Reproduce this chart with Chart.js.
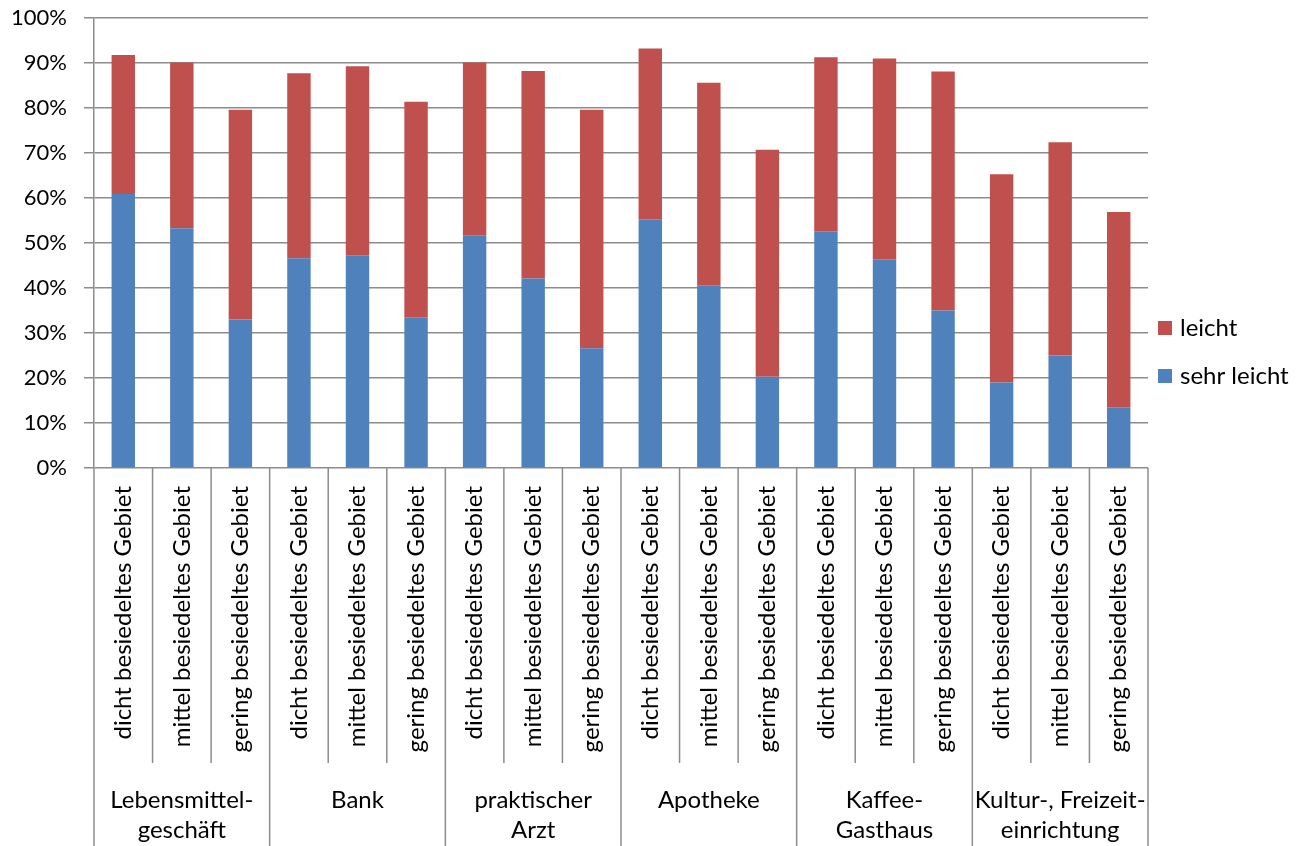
<!DOCTYPE html>
<html>
<head>
<meta charset="utf-8">
<script src="https://cdn.jsdelivr.net/npm/chart.js@4"></script>
<style>
  html, body { margin: 0; background: #fff; }
</style>
</head>
<body>
<canvas id="graficoErreichbarkeit" width="1307" height="846"></canvas>
<script>
// Unterkategorien (Siedlungsdichte) und Gruppen (Einrichtungen)
const gebiete = ['dicht besiedeltes Gebiet', 'mittel besiedeltes Gebiet', 'gering besiedeltes Gebiet'];
const einrichtungen = [
  ['Lebensmittel-', 'geschäft'],
  ['Bank'],
  ['praktischer', 'Arzt'],
  ['Apotheke'],
  ['Kaffee-', 'Gasthaus'],
  ['Kultur-, Freizeit-', 'einrichtung']
];

// Werte in %
const sehrLeicht = [60.9, 53.3, 33.0, 46.6, 47.3, 33.5, 51.6, 42.1, 26.6, 55.3, 40.5, 20.3, 52.6, 46.4, 35.0, 19.0, 25.0, 13.5];
const leicht = [30.9, 36.8, 46.6, 41.1, 42.0, 47.9, 38.5, 46.1, 53.0, 37.9, 45.1, 50.4, 38.7, 44.6, 53.1, 46.3, 47.4, 43.4];

const yTicks = [0, 10, 20, 30, 40, 50, 60, 70, 80, 90, 100];

const schrift = 'Lato, "Liberation Sans", sans-serif';
const grau = '#8c8c8c';

const labels = [];
einrichtungen.forEach(() => gebiete.forEach(g => labels.push(g)));

// zeichnet Trennlinien, Gruppenbeschriftung und Legende
const extras = {
  id: 'extras',
  afterDraw(chart) {
    const ctx = chart.ctx;
    const xs = chart.scales.x;
    const area = chart.chartArea;
    const n = labels.length;
    const pos = [];
    for (let i = 0; i < n; i++) pos.push(xs.getPixelForTick(i));

    ctx.save();
    ctx.strokeStyle = grau;
    ctx.lineWidth = 1.5;
    for (let b = 0; b <= n; b++) {
      let x;
      if (b === 0) x = area.left;
      else if (b === n) x = area.right;
      else x = (pos[b - 1] + pos[b]) / 2;
      const ende = (b % 3 === 0) ? chart.height : area.bottom + 295;
      ctx.beginPath();
      ctx.moveTo(x, area.bottom);
      ctx.lineTo(x, ende);
      ctx.stroke();
    }

    ctx.fillStyle = '#000';
    ctx.font = '24px ' + schrift;
    ctx.textAlign = 'center';
    ctx.textBaseline = 'middle';
    einrichtungen.forEach((zeilen, g) => {
      const cx = pos[g * 3 + 1];
      zeilen.forEach((z, k) => {
        ctx.fillText(z, cx, area.bottom + 332 + k * 30);
      });
    });

    // Legende, umgekehrte Reihenfolge wie in Excel
    const ds = chart.data.datasets.slice().reverse();
    ds.forEach((d, k) => {
      const y = 328 + k * 48;
      ctx.fillStyle = d.backgroundColor;
      ctx.fillRect(1158, y - 7, 14, 14);
      ctx.fillStyle = '#000';
      ctx.textAlign = 'left';
      ctx.fillText(d.label, 1180, y);
    });
    ctx.restore();
  }
};

const grafico = new Chart(document.getElementById('graficoErreichbarkeit'), {
  type: 'bar',
  data: {
    labels: labels,
    datasets: [
      {
        label: 'sehr leicht',
        data: sehrLeicht,
        backgroundColor: '#4f81bd',
        borderWidth: 0
      },
      {
        label: 'leicht',
        data: leicht,
        backgroundColor: '#c0504d',
        borderWidth: 0
      }
    ]
  },
  options: {
    responsive: false,
    animation: false,
    layout: { padding: { top: 18, right: 159, left: 0, bottom: 0 } },
    datasets: { bar: { barPercentage: 0.4, categoryPercentage: 1.0 } },
    plugins: {
      legend: { display: false },
      tooltip: { enabled: false }
    },
    scales: {
      x: {
        stacked: true,
        grid: { display: false, drawTicks: false },
        border: { display: false },
        ticks: {
          autoSkip: false,
          minRotation: 90,
          maxRotation: 90,
          padding: 18,
          color: '#000',
          font: { family: schrift, size: 24 }
        },
        afterFit(scale) { scale.height = 378; }
      },
      y: {
        stacked: true,
        min: 0,
        max: 100,
        afterBuildTicks(scale) { scale.ticks = yTicks.map(v => ({ value: v })); },
        grid: { color: grau, lineWidth: 1.5, tickLength: 10 },
        border: { color: grau, width: 1.5 },
        ticks: {
          padding: 17,
          color: '#000',
          font: { family: schrift, size: 22 },
          callback: v => v + '%'
        },
        afterFit(scale) {
          scale.width = 94;
          // sonst schiebt das Tick-Padding die Zeichenfläche nach unten
          scale.paddingTop = 0;
          scale.paddingBottom = 0;
        }
      }
    }
  },
  plugins: [extras]
});
</script>
</body>
</html>
